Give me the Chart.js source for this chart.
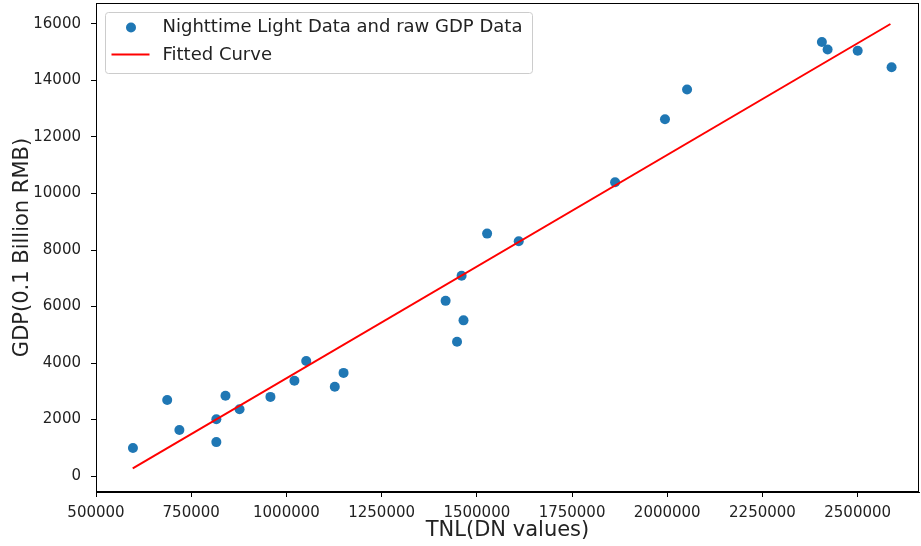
<!DOCTYPE html>
<html>
<head>
<meta charset="utf-8">
<script src="https://cdn.jsdelivr.net/npm/chart.js@4"></script>
<style>
  html, body { margin: 0; padding: 0; background: #fff; }
  #wrap { width: 921px; height: 546px; }
</style>
</head>
<body>
<div id="wrap"><canvas id="gdpChart" width="921" height="546"></canvas></div>
<script>
// values
const tnl = [597000, 687000, 719000, 816000, 816000, 840000, 877000, 958000, 1021000,
  1052000, 1127000, 1150000, 1418000, 1448000, 1460000, 1465000, 1527000, 1610000,
  1863000, 1994000, 2052000, 2406000, 2421000, 2500000, 2589000];
const gdp = [990, 2690, 1630, 2010, 1200, 2840, 2360, 2800, 3370,
  4070, 3160, 3650, 6200, 4750, 7090, 5510, 8580, 8310,
  10400, 12630, 13680, 15360, 15100, 15050, 14470];

// fitted line end points
const fitX = [596500, 2586000];
const fitY = [272, 16000];

const xTicks = [500000, 750000, 1000000, 1250000, 1500000, 1750000, 2000000, 2250000, 2500000];
const yTicks = [0, 2000, 4000, 6000, 8000, 10000, 12000, 14000, 16000];

const legendLabels = ['Nighttime Light Data and raw GDP Data', 'Fitted Curve'];

const FONT = "'DejaVu Sans', sans-serif";
const BLUE = '#1f77b4';
const RED = '#ff0000';

// frame + legend box, matplotlib style
const framePlugin = {
  id: 'frame',
  afterDraw(chart) {
    const { ctx, chartArea: a } = chart;
    ctx.save();
    ctx.strokeStyle = '#000';
    ctx.lineWidth = 1;
    ctx.strokeRect(Math.round(a.left) + 0.5, Math.round(a.top) + 0.5,
      Math.round(a.right - a.left) - 1, Math.round(a.bottom - a.top) - 1);

    // legend
    const bx = a.left + 9.5, by = a.top + 9.5, bw = 427, bh = 61;
    ctx.beginPath();
    ctx.roundRect(bx, by, bw, bh, 3);
    ctx.fillStyle = 'rgba(255,255,255,0.8)';
    ctx.fill();
    ctx.strokeStyle = '#cccccc';
    ctx.stroke();

    ctx.fillStyle = BLUE;
    ctx.beginPath();
    ctx.arc(bx + 25.5, by + 15, 5, 0, Math.PI * 2);
    ctx.fill();

    ctx.strokeStyle = RED;
    ctx.lineWidth = 2;
    ctx.beginPath();
    ctx.moveTo(bx + 6, by + 42);
    ctx.lineTo(bx + 44, by + 42);
    ctx.stroke();

    ctx.fillStyle = '#222';
    ctx.font = '18px ' + FONT;
    ctx.textBaseline = 'middle';
    ctx.fillText(legendLabels[0], bx + 57, by + 15);
    ctx.fillText(legendLabels[1], bx + 57, by + 42.5);
    ctx.restore();
  }
};

function noPad(s) {
  s.paddingTop = 0;
  s.paddingBottom = 0;
  s.paddingLeft = 0;
  s.paddingRight = 0;
}

new Chart(document.getElementById('gdpChart'), {
  type: 'scatter',
  data: {
    datasets: [
      {
        label: legendLabels[0],
        data: tnl.map((x, i) => ({ x: x, y: gdp[i] })),
        backgroundColor: BLUE,
        borderWidth: 0,
        pointRadius: 5,
        order: 1
      },
      {
        type: 'line',
        label: legendLabels[1],
        data: fitX.map((x, i) => ({ x: x, y: fitY[i] })),
        borderColor: RED,
        borderWidth: 2,
        pointRadius: 0,
        fill: false,
        order: 0
      }
    ]
  },
  options: {
    responsive: false,
    animation: false,
    layout: { autoPadding: false, padding: { top: 3, right: 2, left: 0, bottom: 0 } },
    plugins: {
      legend: { display: false },
      tooltip: { enabled: false }
    },
    scales: {
      x: {
        type: 'linear',
        min: 500000,
        max: 2661000,
        afterBuildTicks: s => { s.ticks = xTicks.map(v => ({ value: v })); },
        afterFit: s => { s.height = 54; noPad(s); },
        ticks: {
          color: '#222',
          font: { family: FONT, size: 15 },
          padding: 7,
          maxRotation: 0,
          autoSkip: false,
          callback: v => String(v)
        },
        grid: { drawOnChartArea: false, tickLength: 5, color: '#000' },
        border: { color: '#000', width: 1 },
        title: {
          display: true,
          text: 'TNL(DN values)',
          color: '#222',
          font: { family: FONT, size: 21 },
          padding: { top: 0, bottom: 3 }
        }
      },
      y: {
        type: 'linear',
        min: -566,
        max: 16743,
        afterBuildTicks: s => { s.ticks = yTicks.map(v => ({ value: v })); },
        afterFit: s => { s.width = 96; noPad(s); },
        ticks: {
          color: '#222',
          font: { family: FONT, size: 15 },
          padding: 10,
          autoSkip: false,
          callback: v => String(v)
        },
        grid: { drawOnChartArea: false, tickLength: 5, color: '#000' },
        border: { color: '#000', width: 1 },
        title: {
          display: true,
          text: 'GDP(0.1 Billion RMB)',
          color: '#222',
          font: { family: FONT, size: 21 },
          padding: { top: 10, bottom: 0 }
        }
      }
    }
  },
  plugins: [framePlugin]
});
</script>
</body>
</html>
